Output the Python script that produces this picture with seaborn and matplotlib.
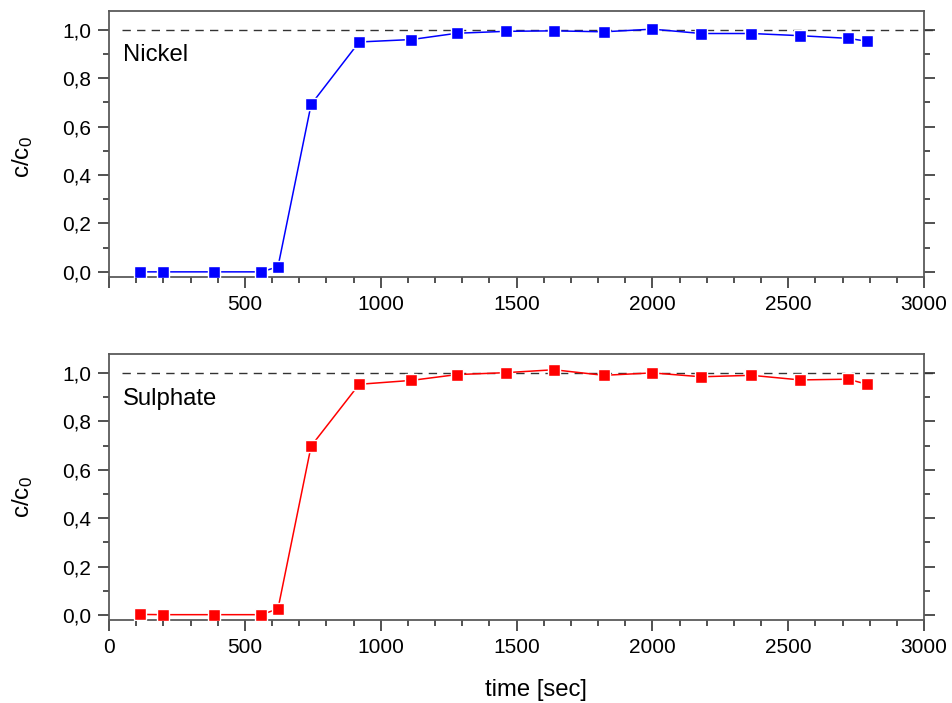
import matplotlib
matplotlib.use("Agg")
import matplotlib.pyplot as plt
import seaborn as sns
import pandas as pd
from matplotlib.ticker import MultipleLocator, FixedLocator

# ---- data ----
time_s = [115, 200, 388, 561, 622, 744, 921, 1113, 1280, 1461, 1638, 1821,
          2000, 2180, 2365, 2544, 2720, 2791]
nickel = [0.0, 0.0, 0.0, 0.0, 0.021, 0.692, 0.950, 0.960, 0.986, 0.994,
          0.996, 0.992, 1.003, 0.985, 0.985, 0.976, 0.965, 0.953]
sulphate = [0.003, 0.002, 0.002, 0.002, 0.026, 0.698, 0.953, 0.969, 0.993, 1.001,
            1.013, 0.990, 1.000, 0.984, 0.990, 0.971, 0.974, 0.953]
panel_names = ["Nickel", "Sulphate"]
panel_colors = ["#0000FF", "#FF0000"]
ref_level = 1.0
ref_span = [48, 3045]
x_ticks = [0, 500, 1000, 1500, 2000, 2500, 3000]
y_ticks = [0.0, 0.2, 0.4, 0.6, 0.8, 1.0]
y_ticklabels = ["0,0", "0,2", "0,4", "0,6", "0,8", "1,0"]
x_label = "time [sec]"
y_label = r"c/c$_0$"

sns.set_theme(style="ticks")
plt.rcParams["font.family"] = ["Liberation Sans", "DejaVu Sans"]
plt.rcParams["mathtext.fontset"] = "custom"
plt.rcParams["mathtext.rm"] = "Liberation Sans"
plt.rcParams["mathtext.it"] = "Liberation Sans"
plt.rcParams["mathtext.default"] = "regular"

fig = plt.figure(figsize=(9.52, 7.03), dpi=100)
W, H = 952, 703
ax_top = fig.add_axes([109 / W, 1 - 276.7 / H, 815 / W, 265.7 / H])
ax_bot = fig.add_axes([109 / W, 1 - 620 / H, 815 / W, 266 / H])

spine_col = "#5a5a5a"
for i, (ax, vals) in enumerate(zip([ax_top, ax_bot], [nickel, sulphate])):
    df = pd.DataFrame({"time": time_s, "c": vals})
    sns.lineplot(data=df, x="time", y="c", ax=ax, color=panel_colors[i],
                 marker="s", markersize=8.8, markeredgecolor="white",
                 markeredgewidth=1.0, linewidth=1.1, sort=False,
                 estimator=None, legend=False, zorder=3)
    ax.hlines(ref_level, ref_span[0], ref_span[1], colors="#333333",
              linestyles=(0, (6, 4.5)), linewidth=1.0, clip_on=False, zorder=2)
    ax.set_xlim(0, 3000)
    ax.set_ylim(-0.02, 1.078)
    ax.xaxis.set_major_locator(FixedLocator(x_ticks))
    ax.xaxis.set_minor_locator(MultipleLocator(100))
    ax.yaxis.set_major_locator(FixedLocator(y_ticks))
    ax.yaxis.set_minor_locator(MultipleLocator(0.1))
    ax.set_yticklabels(y_ticklabels)
    if i == 0:
        ax.set_xticklabels(["" if t == 0 else str(t) for t in x_ticks])
    else:
        ax.set_xticklabels([str(t) for t in x_ticks])
    ax.tick_params(axis="both", which="major", direction="out", length=8,
                   width=1.1, color="#222222", labelsize=15, pad=5,
                   labelcolor="black")
    ax.tick_params(axis="both", which="minor", direction="out", length=4,
                   width=1.1, color="#222222")
    ax.tick_params(axis="y", which="both", left=True, right=True)
    ax.tick_params(axis="x", which="both", top=False, bottom=True)
    for sp in ax.spines.values():
        sp.set_visible(True)
        sp.set_color(spine_col)
        sp.set_linewidth(1.3)
    ax.text(50, 0.873 if i == 0 else 0.866, panel_names[i], fontsize=17.2,
            color="black", va="baseline", ha="left")
    ax.set_ylabel(y_label, fontsize=17.5, color="black")
    ax.set_xlabel("")
    ax.grid(False)
    ax.set_facecolor("white")

ax_top.yaxis.set_label_coords(-0.0905, 0.452)
ax_bot.yaxis.set_label_coords(-0.0905, 0.464)

ax_bot.set_xlabel(x_label, fontsize=17.2, color="black")
ax_bot.xaxis.set_label_coords(0.524, -0.286)
ax_bot.xaxis.label.set_va("baseline")

fig.savefig("out.png", dpi=100, facecolor="white")
